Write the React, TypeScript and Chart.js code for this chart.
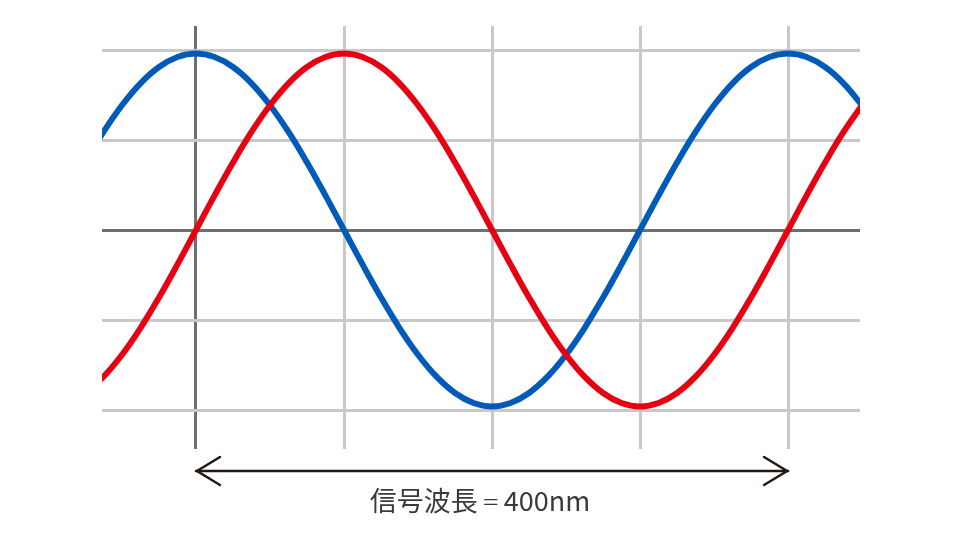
import React, { useEffect, useRef } from "react";
import { Chart, registerables } from "chart.js";

Chart.register(...registerables);

// wavelength positions (nm)
const positions = [
  -75, -62.5, -50, -37.5, -25, -12.5, 0, 12.5, 25, 37.5, 50, 62.5, 75, 87.5, 100, 112.5, 125, 137.5,
  150, 162.5, 175, 187.5, 200, 212.5, 225, 237.5, 250, 262.5, 275, 287.5, 300, 312.5, 325, 337.5,
  350, 362.5, 375, 387.5, 400, 412.5, 425, 437.5, 450,
];
// red wave values
const redValues = [
  -1.811, -1.63, -1.386, -1.089, -0.75, -0.382, 0, 0.382, 0.75, 1.089, 1.386, 1.63, 1.811, 1.922,
  1.96, 1.922, 1.811, 1.63, 1.386, 1.089, 0.75, 0.382, 0, -0.382, -0.75, -1.089, -1.386, -1.63,
  -1.811, -1.922, -1.96, -1.922, -1.811, -1.63, -1.386, -1.089, -0.75, -0.382, 0, 0.382, 0.75,
  1.089, 1.386,
];
// blue wave values
const blueValues = [
  0.75, 1.089, 1.386, 1.63, 1.811, 1.922, 1.96, 1.922, 1.811, 1.63, 1.386, 1.089, 0.75, 0.382, 0,
  -0.382, -0.75, -1.089, -1.386, -1.63, -1.811, -1.922, -1.96, -1.922, -1.811, -1.63, -1.386,
  -1.089, -0.75, -0.382, 0, 0.382, 0.75, 1.089, 1.386, 1.63, 1.811, 1.922, 1.96, 1.922, 1.811,
  1.63, 1.386,
];
const xTicks = [0, 100, 200, 300, 400];
const yTicks = [-2, -1, 0, 1, 2];
const wavelengthStart = 0;
const wavelengthEnd = 400;
const captionParts = ["信号波長", "＝", "400nm"];

const annotationPlugin = {
  id: "wavelengthArrow",
  afterDraw(chart: any) {
    const { ctx, scales, chartArea } = chart;
    const x0 = scales.x.getPixelForValue(wavelengthStart);
    const x1 = scales.x.getPixelForValue(wavelengthEnd);
    const y = chartArea.bottom + 22;
    ctx.save();
    ctx.strokeStyle = "#231815";
    ctx.lineWidth = 2.5;
    ctx.lineCap = "round";
    ctx.lineJoin = "miter";
    ctx.beginPath();
    ctx.moveTo(x0, y);
    ctx.lineTo(x1, y);
    ctx.stroke();
    ctx.beginPath();
    ctx.moveTo(x0 + 24, y - 14);
    ctx.lineTo(x0 + 1, y);
    ctx.lineTo(x0 + 24, y + 14);
    ctx.stroke();
    ctx.beginPath();
    ctx.moveTo(x1 - 24, y - 14);
    ctx.lineTo(x1 - 1, y);
    ctx.lineTo(x1 - 24, y + 14);
    ctx.stroke();

    // caption: CJK text, a narrow equals sign, then the value
    ctx.fillStyle = "#3a3a3a";
    ctx.textBaseline = "middle";
    ctx.textAlign = "left";
    const mainFont = '27px "Noto Sans CJK JP", "Noto Sans", sans-serif';
    const eqFont = '18px "Noto Sans CJK JP", "Noto Sans", sans-serif';
    ctx.font = mainFont;
    const w1 = ctx.measureText(captionParts[0]).width;
    const w3 = ctx.measureText(captionParts[2]).width;
    ctx.font = eqFont;
    const w2 = ctx.measureText(captionParts[1]).width;
    const gap = 4;
    const total = w1 + gap + w2 + gap + w3;
    let tx = chart.width / 2 - total / 2;
    const ty = y + 30;
    ctx.font = mainFont;
    ctx.fillText(captionParts[0], tx, ty);
    tx += w1 + gap;
    ctx.font = eqFont;
    ctx.fillText(captionParts[1], tx, ty + 1);
    tx += w2 + gap;
    ctx.font = mainFont;
    ctx.fillText(captionParts[2], tx, ty);
    ctx.restore();
  },
};

export default function App() {
  const canvasRef = useRef<HTMLCanvasElement | null>(null);

  useEffect(() => {
    if (!canvasRef.current) return;
    const chart = new Chart(canvasRef.current, {
      type: "line",
      data: {
        datasets: [
          {
            label: "red",
            data: positions.map((x, i) => ({ x, y: redValues[i] })),
            borderColor: "#e60012",
            borderWidth: 6,
            pointRadius: 0,
            tension: 0.4,
            fill: false,
          },
          {
            label: "blue",
            data: positions.map((x, i) => ({ x, y: blueValues[i] })),
            borderColor: "#005bb8",
            borderWidth: 6,
            pointRadius: 0,
            tension: 0.4,
            fill: false,
          },
        ],
      },
      options: {
        animation: false,
        responsive: true,
        maintainAspectRatio: false,
        layout: { padding: { left: 102, right: 100, top: 26, bottom: 91 } },
        plugins: { legend: { display: false }, tooltip: { enabled: false } },
        scales: {
          x: {
            type: "linear",
            min: -63.5,
            max: 448.6,
            afterBuildTicks: (s: any) => {
              s.ticks = xTicks.map((v) => ({ value: v }));
            },
            ticks: { display: false },
            border: { display: false },
            grid: {
              drawTicks: false,
              lineWidth: 3,
              color: (c: any) => (c.tick && c.tick.value === 0 ? "#6e6e6e" : "#c8c8c8"),
            },
          },
          y: {
            type: "linear",
            min: -2.4333,
            max: 2.2667,
            afterBuildTicks: (s: any) => {
              s.ticks = yTicks.map((v) => ({ value: v }));
            },
            ticks: { display: false },
            border: { display: false },
            grid: {
              drawTicks: false,
              lineWidth: 3,
              color: (c: any) => (c.tick && c.tick.value === 0 ? "#6e6e6e" : "#c8c8c8"),
            },
          },
        },
      },
      plugins: [annotationPlugin],
    });
    return () => chart.destroy();
  }, []);

  return (
    <div style={{ position: "absolute", left: 0, top: 0, width: 960, height: 540, background: "#fff" }}>
      <canvas ref={canvasRef} />
    </div>
  );
}
